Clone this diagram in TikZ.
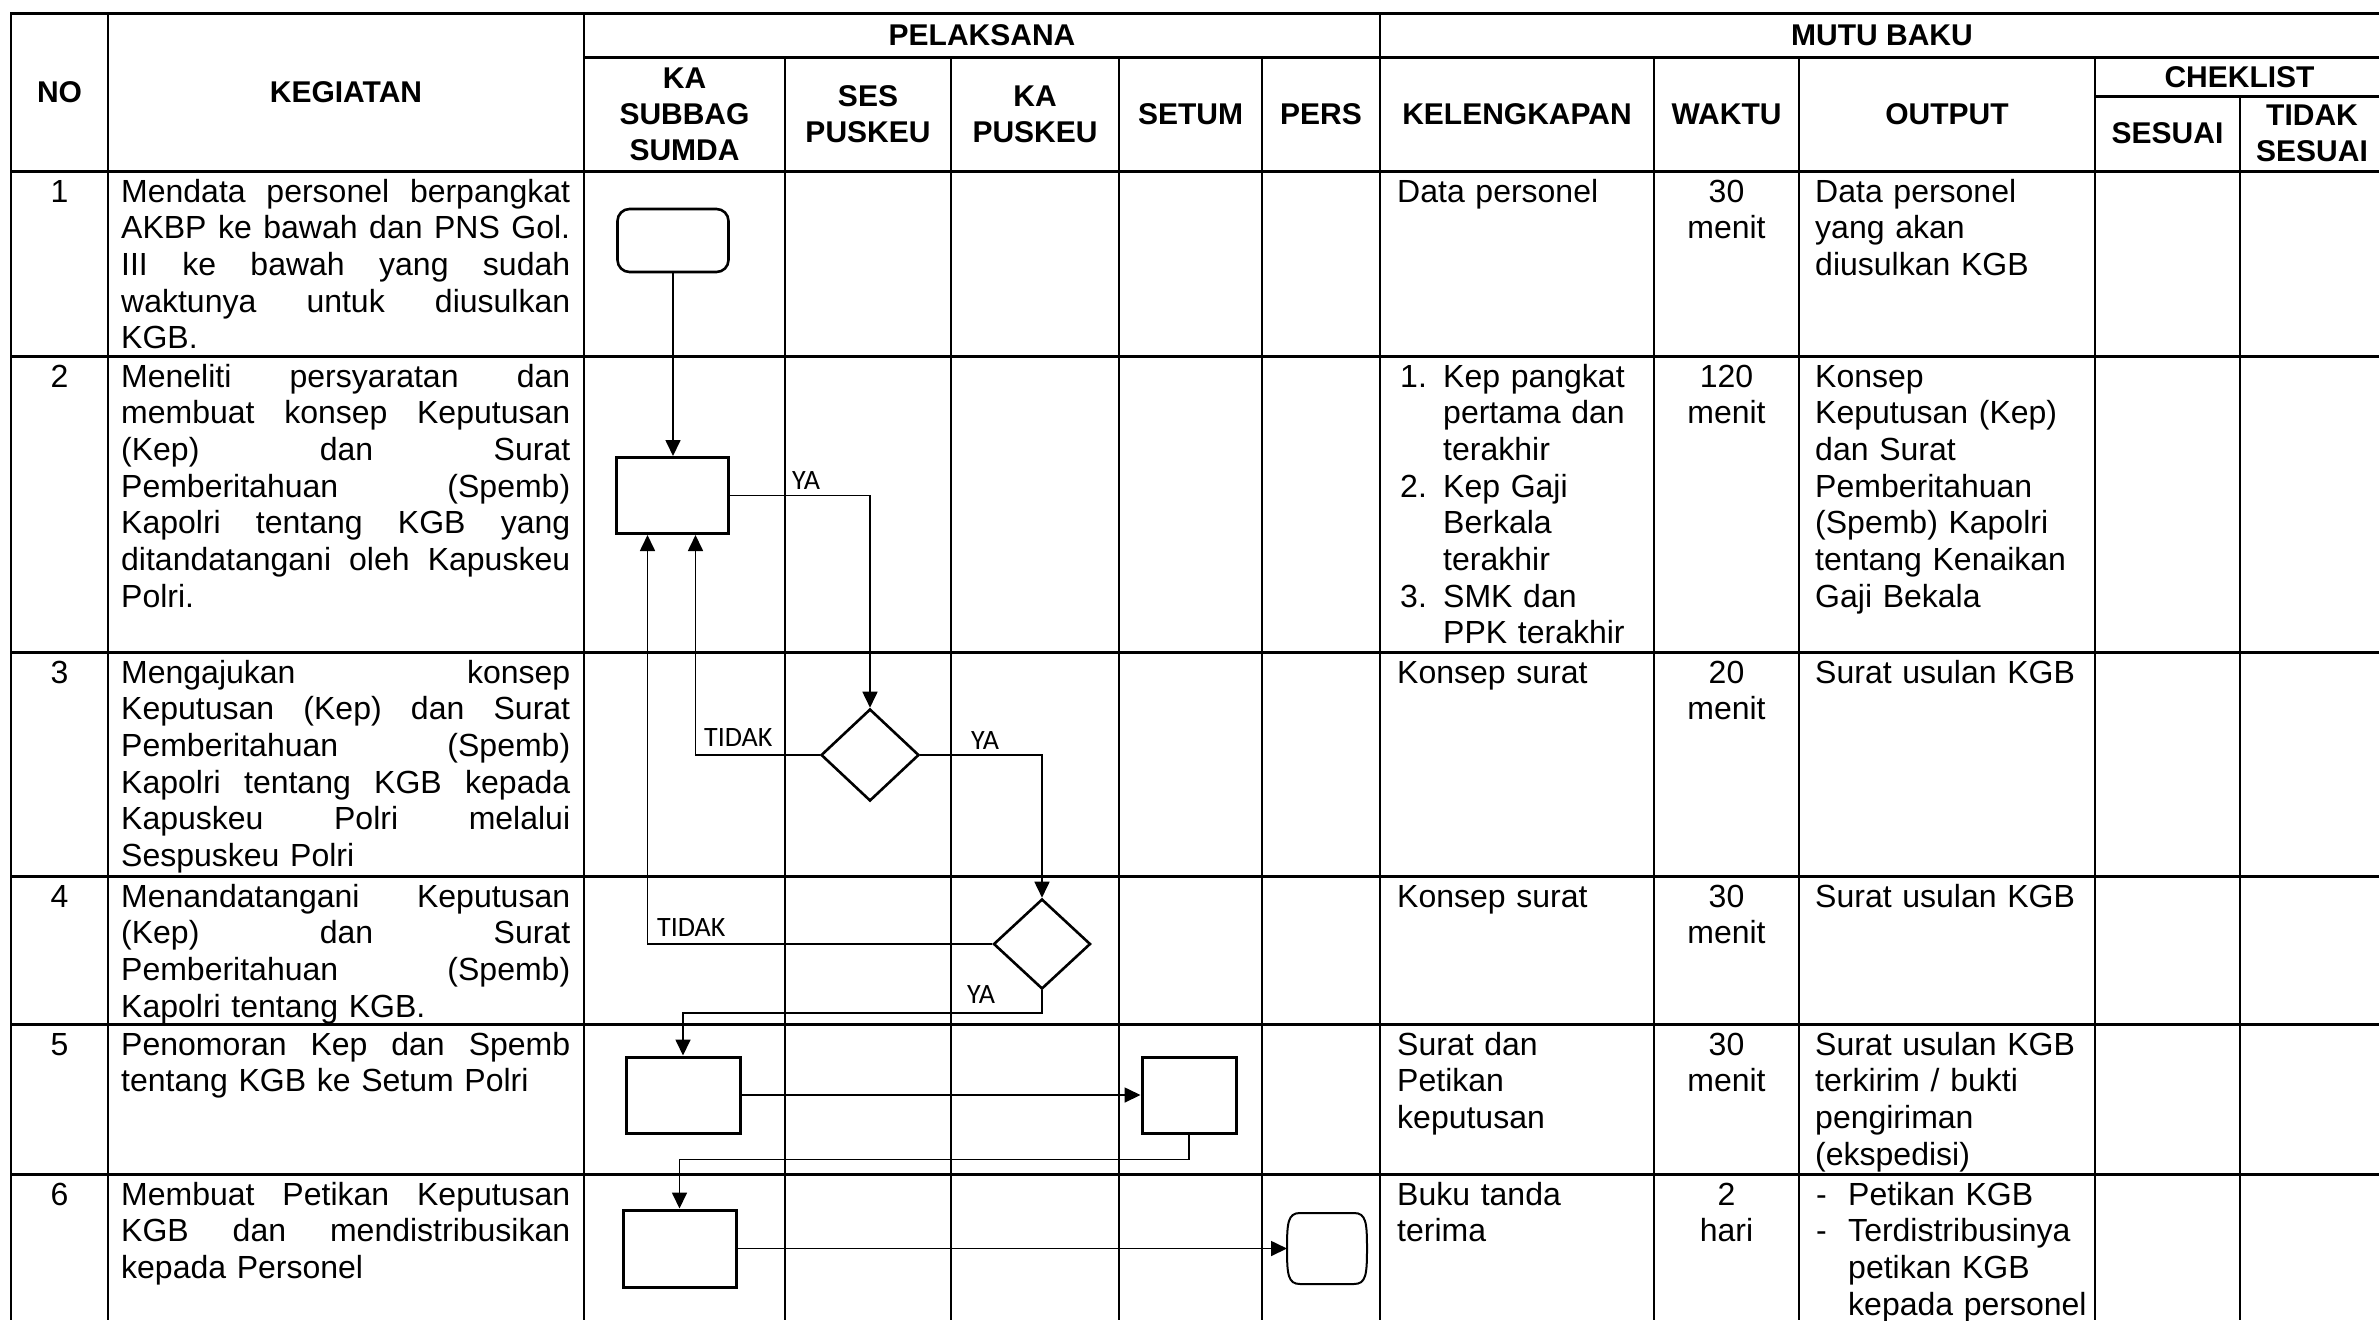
\documentclass[tikz,border=0pt]{standalone}
\usepackage{fontspec}
\setmainfont{Liberation Sans}
\newfontfamily\lblfont{Carlito}
\usetikzlibrary{arrows.meta,shapes.geometric,calc}
\newcommand{\JL}[1]{\leavevmode\hbox to 449pt{\spaceskip=0.278em plus 1fil\relax #1}}
\begin{document}
\begin{tikzpicture}[x=1pt,y=-1pt,
  hline/.style={line width=3pt,line cap=rect},
  vline/.style={line width=2pt},
  proc/.style={draw,line width=3pt,minimum height=76pt,inner sep=0pt},
  startbox/.style={draw,line width=2.6pt,rounded corners=12pt,minimum width=111pt,minimum height=63pt,inner sep=0pt},
  dec/.style={draw,diamond,line width=2.6pt,inner sep=0pt,minimum width=98pt,minimum height=92pt},
  termline/.style={line width=2pt},
  arr/.style={line width=1.7pt,-{Triangle[length=16pt,width=15pt]}},
  lbl/.style={font=\lblfont\fontsize{28}{30}\selectfont,inner sep=0pt,anchor=base west},
  body/.style={font=\fontsize{32}{36.7}\selectfont,inner sep=0pt,anchor=base west,align=left},
  head/.style={font=\bfseries\fontsize{30}{36}\selectfont,inner sep=0pt,align=center}]
\useasboundingbox (0,0) rectangle (2379,1320);
\fill[white] (0,0) rectangle (2379,1320);
% ---- grid ----
\draw[hline] (11,13) -- (2384,13);
\draw[hline] (584,57) -- (2384,57);
\draw[hline] (2095,96) -- (2384,96);
\foreach \y in {171,356,652,876,1024,1174} \draw[hline] (11,\y) -- (2384,\y);
\foreach \x in {11,108,584,1380} \draw[vline] (\x,13) -- (\x,1320);
\foreach \x in {785,951,1119,1262,1654,1799,2095} \draw[vline] (\x,57) -- (\x,1320);
\draw[vline] (2240,96) -- (2240,1320);
% ---- headers ----
\node[head] (hNO) at (59.5,92) {NO};
\node[head] (hKEG) at (346,92) {KEGIATAN};
\node[head] (hPEL) at (982,35) {PELAKSANA};
\node[head] (hMUTU) at (1882,35) {MUTU BAKU};
\node[head] (hKA) at (684.5,114) {KA\\SUBBAG\\SUMDA};
\node[head] (hSES) at (868,114) {SES\\PUSKEU};
\node[head] (hKAP) at (1035,114) {KA\\PUSKEU};
\node[head] (hSET) at (1190.5,114) {SETUM};
\node[head] (hPERS) at (1321,114) {PERS};
\node[head] (hKEL) at (1517,114) {KELENGKAPAN};
\node[head] (hWAK) at (1726.5,114) {WAKTU};
\node[head] (hOUT) at (1947,114) {OUTPUT};
\node[head] (hCHK) at (2239.5,77) {CHEKLIST};
\node[head] (hSS) at (2167.5,133.5) {SESUAI};
\node[head] (hTS) at (2312,133.5) {TIDAK\\SESUAI};
% ---- row 1 ----
\node[body,anchor=base] (n1) at (59.5,202) {1};
\node[body,text width=449pt] (k1) at (121,202) {\JL{Mendata personel berpangkat}\\\JL{AKBP ke bawah dan PNS Gol.}\\\JL{III ke bawah yang sudah}\\\JL{waktunya untuk diusulkan}\\KGB.};
\node[body,text width=250pt] (l1) at (1397,202) {Data personel};
\node[body,text width=140pt,align=center,anchor=base] (w1) at (1726.5,202) {30\\menit};
\node[body,text width=275pt] (o1) at (1815,202) {Data personel\\yang akan\\diusulkan KGB};
% ---- row 2 ----
\node[body,anchor=base] (n2) at (59.5,387) {2};
\node[body,text width=449pt] (k2) at (121,387) {\JL{Meneliti persyaratan dan}\\\JL{membuat konsep Keputusan}\\\JL{(Kep) dan Surat}\\\JL{Pemberitahuan (Spemb)}\\\JL{Kapolri tentang KGB yang}\\\JL{ditandatangani oleh Kapuskeu}\\Polri.};
\node[body,text width=250pt] (l2) at (1400,387) {\makebox[43pt][l]{1.}Kep pangkat\\\hspace*{43pt}pertama dan\\\hspace*{43pt}terakhir\\\makebox[43pt][l]{2.}Kep Gaji\\\hspace*{43pt}Berkala\\\hspace*{43pt}terakhir\\\makebox[43pt][l]{3.}SMK dan\\\hspace*{43pt}PPK terakhir};
\node[body,text width=140pt,align=center,anchor=base] (w2) at (1726.5,387) {120\\menit};
\node[body,text width=275pt] (o2) at (1815,387) {Konsep\\Keputusan (Kep)\\dan Surat\\Pemberitahuan\\(Spemb) Kapolri\\tentang Kenaikan\\Gaji Bekala};
% ---- row 3 ----
\node[body,anchor=base] (n3) at (59.5,683) {3};
\node[body,text width=449pt] (k3) at (121,683) {\JL{Mengajukan konsep}\\\JL{Keputusan (Kep) dan Surat}\\\JL{Pemberitahuan (Spemb)}\\\JL{Kapolri tentang KGB kepada}\\\JL{Kapuskeu Polri melalui}\\Sespuskeu Polri};
\node[body,text width=250pt] (l3) at (1397,683) {Konsep surat};
\node[body,text width=140pt,align=center,anchor=base] (w3) at (1726.5,683) {20\\menit};
\node[body,text width=275pt] (o3) at (1815,683) {Surat usulan KGB};
% ---- row 4 ----
\node[body,anchor=base] (n4) at (59.5,907) {4};
\node[body,text width=449pt] (k4) at (121,907) {\JL{Menandatangani Keputusan}\\\JL{(Kep) dan Surat}\\\JL{Pemberitahuan (Spemb)}\\Kapolri tentang KGB.};
\node[body,text width=250pt] (l4) at (1397,907) {Konsep surat};
\node[body,text width=140pt,align=center,anchor=base] (w4) at (1726.5,907) {30\\menit};
\node[body,text width=275pt] (o4) at (1815,907) {Surat usulan KGB};
% ---- row 5 ----
\node[body,anchor=base] (n5) at (59.5,1055) {5};
\node[body,text width=449pt] (k5) at (121,1055) {\JL{Penomoran Kep dan Spemb}\\tentang KGB ke Setum Polri};
\node[body,text width=250pt] (l5) at (1397,1055) {Surat dan\\Petikan\\keputusan};
\node[body,text width=140pt,align=center,anchor=base] (w5) at (1726.5,1055) {30\\menit};
\node[body,text width=275pt] (o5) at (1815,1055) {Surat usulan KGB\\terkirim / bukti\\pengiriman\\(ekspedisi)};
% ---- row 6 ----
\node[body,anchor=base] (n6) at (59.5,1205) {6};
\node[body,text width=449pt] (k6) at (121,1205) {\JL{Membuat Petikan Keputusan}\\\JL{KGB dan mendistribusikan}\\kepada Personel};
\node[body,text width=250pt] (l6) at (1397,1205) {Buku tanda\\terima};
\node[body,text width=140pt,align=center,anchor=base] (w6) at (1726.5,1205) {2\\hari};
\node[body,text width=280pt] (o6) at (1816,1205) {\makebox[32pt][l]{-}Petikan KGB\\\makebox[32pt][l]{-}Terdistribusinya\\\hspace*{32pt}petikan KGB\\\hspace*{32pt}kepada personel};
% ---- flowchart shapes ----
\node[startbox] (s) at (673,240.5) {};
\node[proc,minimum width=112pt] (p1) at (672.5,495.5) {};
\coordinate (p1l) at ($(p1.south)+(-25,0)$);
\coordinate (p1r) at ($(p1.south)+(23,0)$);
\node[dec] (d1) at (870,755) {};
\node[dec,minimum width=97pt,minimum height=90pt] (d2) at (1042,944) {};
\node[proc,minimum width=114pt] (p2) at (683,1095) {};
\node[proc,minimum width=94pt] (p3) at (1189,1095) {};
\node[proc,minimum width=113pt,minimum height=77pt] (p4) at (679.5,1248.5) {};
\node[draw=none,minimum width=80pt,minimum height=71pt,inner sep=0pt,outer sep=0pt] (e) at (1327,1248.5) {};
\draw[termline] ($(e.north east)+(-13,0)$) .. controls ($(e.north east)+(-1,0)$) and ($(e.east)+(0,-26)$) .. (e.east)
  .. controls ($(e.east)+(0,26)$) and ($(e.south east)+(-1,0)$) .. ($(e.south east)+(-13,0)$)
  -- ($(e.south west)+(13,0)$) .. controls ($(e.south west)+(1,0)$) and ($(e.west)+(0,26)$) .. (e.west)
  .. controls ($(e.west)+(0,-26)$) and ($(e.north west)+(1,0)$) .. ($(e.north west)+(13,0)$) -- cycle;
% ---- connectors ----
\draw[arr] (s.south) -- (s.south |- p1.north);
\draw[arr] (p1.east) -| (d1.north);
\draw[arr] (d1.west) -| (p1r);
\draw[arr] (d1.east) -| (d2.north);
\draw[arr] (d2.west) -| (p1l);
\coordinate (j1) at ($(d2.south)+(0,23)$);
\draw[arr] (d2.south) -- (j1) -| (p2.north);
\draw[arr] (p2.east) -- (p3.west);
\coordinate (j2) at ($(p3.south)+(0,25)$);
\draw[arr] (p3.south) -- (j2) -| (p4.north);
\draw[arr] (p4.east) -- (e.west);
% ---- labels ----
\node[lbl] (ya1) at (792,489) {YA};
\node[lbl] (td1) at (704,746) {TIDAK};
\node[lbl] (ya2) at (971,749) {YA};
\node[lbl] (td2) at (657,936) {TIDAK};
\node[lbl] (ya3) at (967,1003) {YA};
\end{tikzpicture}
\end{document}
